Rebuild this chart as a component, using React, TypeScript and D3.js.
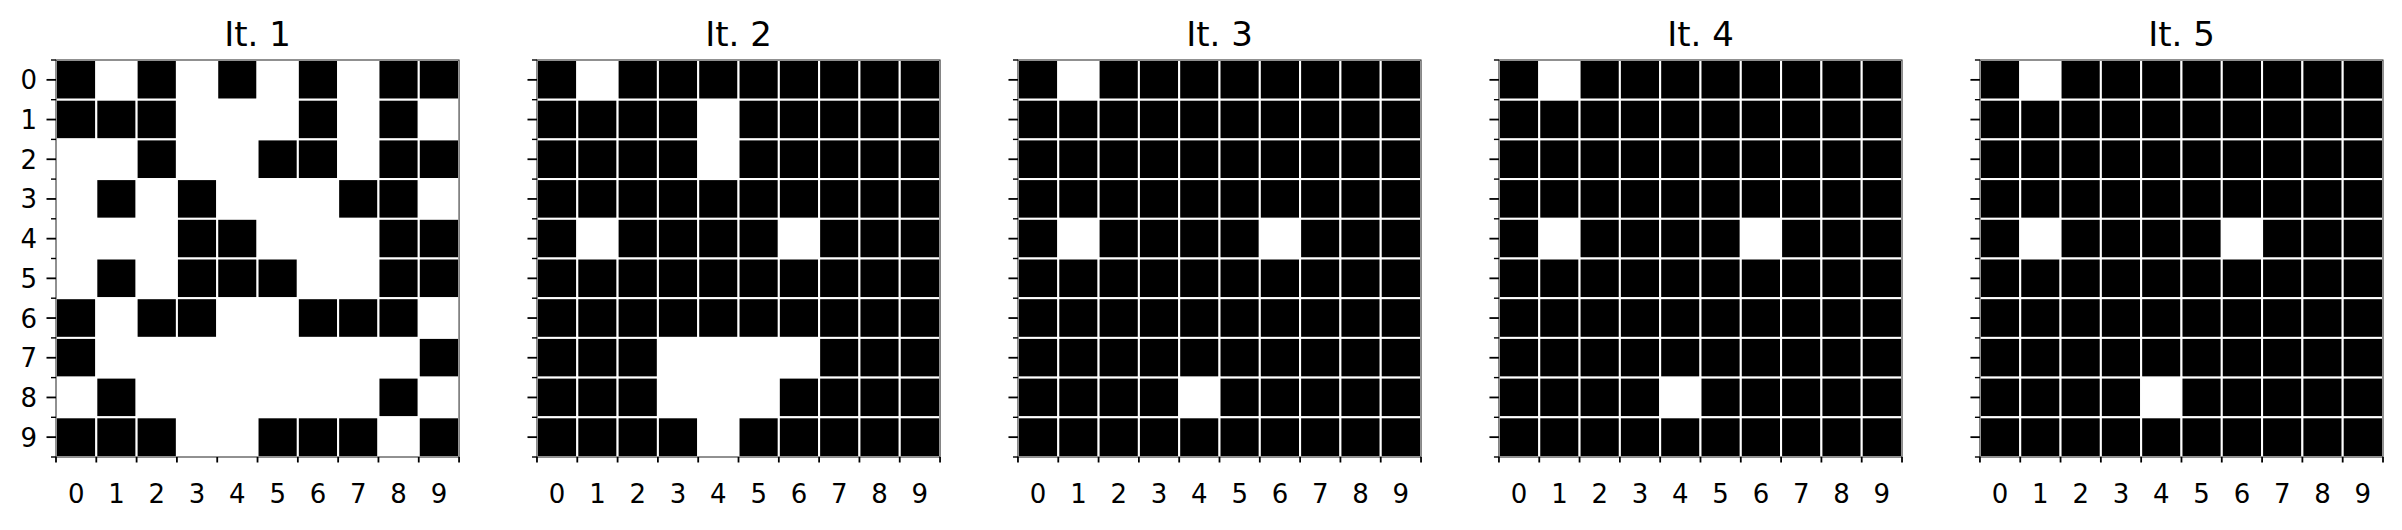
import React from "react";
import * as d3 from "d3";

// 1 = black cell, 0 = white cell (row by row, top to bottom)
const it1 = [
  [1, 0, 1, 0, 1, 0, 1, 0, 1, 1],
  [1, 1, 1, 0, 0, 0, 1, 0, 1, 0],
  [0, 0, 1, 0, 0, 1, 1, 0, 1, 1],
  [0, 1, 0, 1, 0, 0, 0, 1, 1, 0],
  [0, 0, 0, 1, 1, 0, 0, 0, 1, 1],
  [0, 1, 0, 1, 1, 1, 0, 0, 1, 1],
  [1, 0, 1, 1, 0, 0, 1, 1, 1, 0],
  [1, 0, 0, 0, 0, 0, 0, 0, 0, 1],
  [0, 1, 0, 0, 0, 0, 0, 0, 1, 0],
  [1, 1, 1, 0, 0, 1, 1, 1, 0, 1],
];
const it2 = [
  [1, 0, 1, 1, 1, 1, 1, 1, 1, 1],
  [1, 1, 1, 1, 0, 1, 1, 1, 1, 1],
  [1, 1, 1, 1, 0, 1, 1, 1, 1, 1],
  [1, 1, 1, 1, 1, 1, 1, 1, 1, 1],
  [1, 0, 1, 1, 1, 1, 0, 1, 1, 1],
  [1, 1, 1, 1, 1, 1, 1, 1, 1, 1],
  [1, 1, 1, 1, 1, 1, 1, 1, 1, 1],
  [1, 1, 1, 0, 0, 0, 0, 1, 1, 1],
  [1, 1, 1, 0, 0, 0, 1, 1, 1, 1],
  [1, 1, 1, 1, 0, 1, 1, 1, 1, 1],
];
const it3 = [
  [1, 0, 1, 1, 1, 1, 1, 1, 1, 1],
  [1, 1, 1, 1, 1, 1, 1, 1, 1, 1],
  [1, 1, 1, 1, 1, 1, 1, 1, 1, 1],
  [1, 1, 1, 1, 1, 1, 1, 1, 1, 1],
  [1, 0, 1, 1, 1, 1, 0, 1, 1, 1],
  [1, 1, 1, 1, 1, 1, 1, 1, 1, 1],
  [1, 1, 1, 1, 1, 1, 1, 1, 1, 1],
  [1, 1, 1, 1, 1, 1, 1, 1, 1, 1],
  [1, 1, 1, 1, 0, 1, 1, 1, 1, 1],
  [1, 1, 1, 1, 1, 1, 1, 1, 1, 1],
];
const it4 = it3.map((r) => [...r]);
const it5 = it3.map((r) => [...r]);

const grids = [it1, it2, it3, it4, it5];
const titles = ["It. 1", "It. 2", "It. 3", "It. 4", "It. 5"];
const tickLabels = ["0", "1", "2", "3", "4", "5", "6", "7", "8", "9"];

const W = 2402;
const H = 530;
const top = 60;
const bottom = 457;
const font = "DejaVu Sans, Liberation Sans, sans-serif";

const panelScale = d3.scaleBand<number>().domain(d3.range(5)).range([56, 2383]).paddingInner(0.162);

const Panel = ({ grid, title, x0, showY }: { grid: number[][]; title: string; x0: number; showY: boolean }) => {
  const w = panelScale.bandwidth();
  const x = d3.scaleBand<number>().domain(d3.range(10)).range([x0, x0 + w]);
  const y = d3.scaleBand<number>().domain(d3.range(10)).range([top, bottom]);
  const bounds = d3.range(11);
  const xb = (i: number) => x0 + i * x.step();
  const yb = (i: number) => top + i * y.step();

  return (
    <g>
      <text x={x0 + w / 2} y={46} textAnchor="middle" fontSize={34} fontFamily={font} fill="#000">
        {title}
      </text>
      <rect x={x0} y={top} width={w} height={bottom - top} fill="none" stroke="#111" strokeWidth={1.3} />
      {grid.map((row, r) =>
        row.map((v, c) => (
          <rect
            key={`${r}-${c}`}
            x={x(c)}
            y={y(r)}
            width={x.bandwidth()}
            height={y.bandwidth()}
            fill={v ? "#000" : "#fff"}
            stroke="#fff"
            strokeWidth={2}
          />
        ))
      )}
      <rect x={x0} y={top} width={w} height={bottom - top} fill="none" stroke="#222" strokeWidth={1} />
      {/* x ticks at cell boundaries, labels at centres */}
      {bounds.map((i) => (
        <line key={`xt${i}`} x1={xb(i)} x2={xb(i)} y1={bottom} y2={bottom + 5.5} stroke="#000" strokeWidth={1.8} />
      ))}
      {tickLabels.map((t, i) => (
        <text key={`xl${i}`} x={(x(i) ?? 0) + x.bandwidth() / 2} y={503} textAnchor="middle" fontSize={26} fontFamily={font} fill="#000">
          {t}
        </text>
      ))}
      {/* y: major ticks at centres, minor at boundaries */}
      {tickLabels.map((t, i) => (
        <line key={`ym${i}`} x1={x0 - 9.5} x2={x0} y1={(y(i) ?? 0) + y.bandwidth() / 2} y2={(y(i) ?? 0) + y.bandwidth() / 2} stroke="#000" strokeWidth={1.8} />
      ))}
      {bounds.map((i) => (
        <line key={`yn${i}`} x1={x0 - 5} x2={x0} y1={yb(i)} y2={yb(i)} stroke="#000" strokeWidth={1.4} />
      ))}
      {showY &&
        tickLabels.map((t, i) => (
          <text key={`yl${i}`} x={x0 - 19} y={(y(i) ?? 0) + y.bandwidth() / 2 + 9.5} textAnchor="end" fontSize={26} fontFamily={font} fill="#000">
            {t}
          </text>
        ))}
    </g>
  );
};

export default function App() {
  return (
    <div style={{ position: "absolute", left: 0, top: 0 }}>
      <svg width={W} height={H} style={{ display: "block", background: "#fff" }}>
        <rect width={W} height={H} fill="#fff" />
        {grids.map((g, k) => (
          <Panel key={k} grid={g} title={titles[k]} x0={panelScale(k) ?? 0} showY={k === 0} />
        ))}
      </svg>
    </div>
  );
}
